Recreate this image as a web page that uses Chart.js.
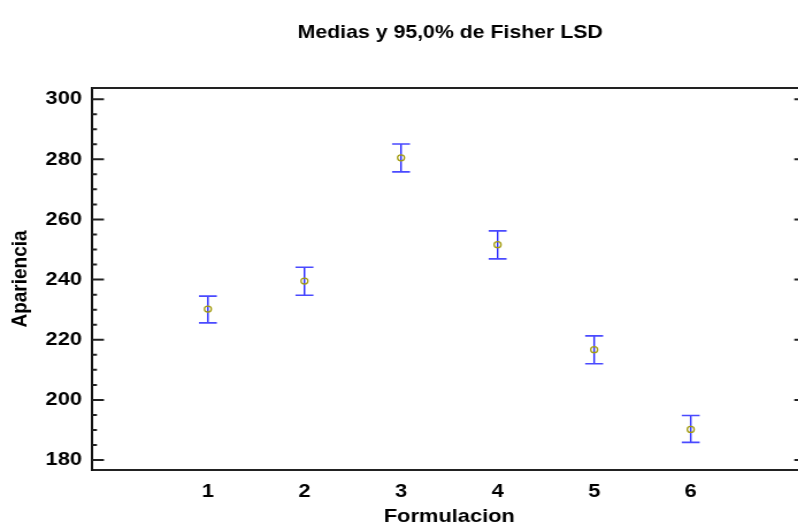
<!DOCTYPE html>
<html>
<head>
<meta charset="utf-8">
<script src="https://cdn.jsdelivr.net/npm/chart.js@4/dist/chart.umd.min.js"></script>
<style>
  html, body { margin: 0; padding: 0; overflow: hidden; background: #fff; }
  /* the original picture is stretched sideways, so the canvas is too */
  #wrap { position: absolute; left: 0; top: 0; width: 783px; height: 527px; transform: scaleX(1.15); transform-origin: 0 0; }
</style>
</head>
<body>
<div id="wrap"><canvas id="chart"></canvas></div>
<script>
const categories = ['1', '2', '3', '4', '5', '6'];
const xPositions = [1, 2, 3, 4, 5, 6];
const means = [230.2, 239.5, 280.5, 251.6, 216.7, 190.2];
const lower = [225.6, 234.8, 275.8, 246.9, 212.0, 185.9];
const upper = [234.5, 244.1, 285.1, 256.2, 221.3, 194.8];
const yTicks = [180, 200, 220, 240, 260, 280, 300];
const yMinorStep = 5;

const fontFamily = '"Liberation Sans", Arial, sans-serif';

// vertical LSD intervals with caps
const errorBars = {
  id: 'errorBars',
  beforeDatasetsDraw(chart) {
    const { ctx, scales: { x, y } } = chart;
    ctx.save();
    xPositions.forEach((v, i) => {
      const px = x.getPixelForValue(v);
      const top = y.getPixelForValue(upper[i]);
      const bot = y.getPixelForValue(lower[i]);
      ctx.strokeStyle = '#2525ff';
      ctx.lineWidth = 1.4;
      ctx.beginPath();
      ctx.moveTo(px, top);
      ctx.lineTo(px, bot);
      ctx.stroke();
      ctx.strokeStyle = '#4a4aff';
      ctx.lineWidth = 1.6;
      ctx.beginPath();
      ctx.moveTo(px - 7.8, top);
      ctx.lineTo(px + 7.8, top);
      ctx.moveTo(px - 7.8, bot);
      ctx.lineTo(px + 7.8, bot);
      ctx.stroke();
    });
    ctx.restore();
  }
};

// top line, right axis and the inward tick marks
const frame = {
  id: 'frame',
  afterDraw(chart) {
    const { ctx, chartArea: a, scales: { y } } = chart;
    ctx.save();
    ctx.strokeStyle = '#222';
    ctx.lineWidth = 2;
    ctx.beginPath();
    ctx.moveTo(a.left, a.top);
    ctx.lineTo(chart.width, a.top);
    ctx.moveTo(a.right, a.top);
    ctx.lineTo(a.right, a.bottom);
    for (let v = yTicks[0]; v <= yTicks[yTicks.length - 1]; v += yMinorStep) {
      const py = y.getPixelForValue(v);
      const major = yTicks.includes(v);
      ctx.moveTo(a.left, py);
      ctx.lineTo(a.left + (major ? 10.4 : 4.3), py);
      if (major) {
        ctx.moveTo(a.right, py);
        ctx.lineTo(a.right - 10.7, py);
      }
    }
    ctx.stroke();
    ctx.restore();
  }
};

const ctx = document.getElementById('chart');
new Chart(ctx, {
  type: 'scatter',
  data: {
    datasets: [{
      data: xPositions.map((x, i) => ({ x: x, y: means[i] })),
      pointRadius: 3,
      pointHoverRadius: 3,
      borderColor: '#a39c10',
      backgroundColor: 'rgba(0,0,0,0)',
      borderWidth: 1.3
    }]
  },
  options: {
    responsive: true,
    maintainAspectRatio: false,
    animation: false,
    layout: { padding: 0 },
    plugins: {
      legend: { display: false },
      tooltip: { enabled: false },
      title: {
        display: true,
        text: 'Medias y 95,0% de Fisher LSD',
        color: '#000',
        font: { family: fontFamily, size: 18.5, weight: 'bold' },
        padding: { top: 22, bottom: 43.8 }
      }
    },
    scales: {
      x: {
        type: 'linear',
        min: -0.2,
        max: 7.2,
        grid: { display: false, drawTicks: false },
        border: { display: true, color: '#222', width: 2 },
        afterBuildTicks: (s) => { s.ticks = xPositions.map((v) => ({ value: v })); },
        afterFit: (s) => { s.height = 57; },
        ticks: {
          callback: (v, i) => categories[i],
          color: '#000',
          font: { family: fontFamily, size: 19, weight: 'bold' },
          padding: 10,
          maxRotation: 0,
          autoSkip: false
        },
        title: {
          display: true,
          text: 'Formulacion',
          color: '#000',
          font: { family: fontFamily, size: 19, weight: 'bold', lineHeight: 1 },
          padding: { top: 0, bottom: 0.5 }
        }
      },
      y: {
        min: 176.7,
        max: 303.7,
        grid: { display: false, drawTicks: false },
        border: { display: true, color: '#111', width: 2 },
        afterBuildTicks: (s) => { s.ticks = yTicks.map((v) => ({ value: v })); },
        afterFit: (s) => { s.width = 80; },
        ticks: {
          color: '#000',
          font: { family: fontFamily, size: 19, weight: 'bold' },
          padding: 8.7
        },
        title: {
          display: true,
          text: 'Apariencia',
          color: '#000',
          font: { family: fontFamily, size: 19, weight: 'bold' },
          padding: { top: 6, bottom: 6 }
        }
      },
      // empty right axis, only reserves the space past the right edge
      yRight: {
        position: 'right',
        display: true,
        grid: { display: false, drawTicks: false },
        border: { display: false },
        ticks: { display: false },
        afterFit: (s) => { s.width = 81.6; }
      }
    }
  },
  plugins: [errorBars, frame]
});
</script>
</body>
</html>
